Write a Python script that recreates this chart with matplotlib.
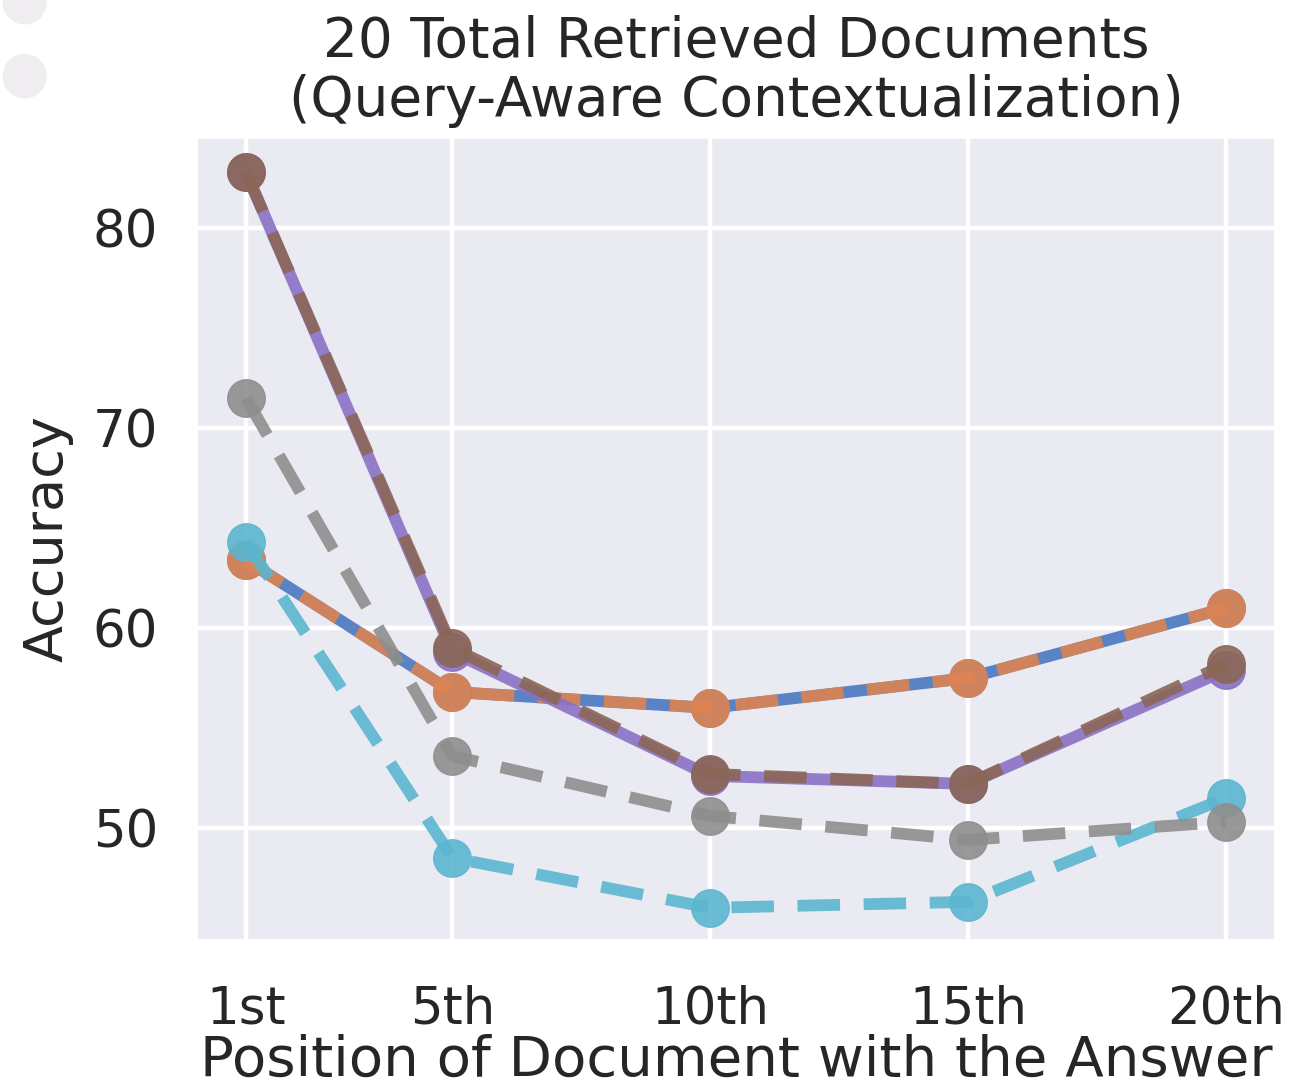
import matplotlib
matplotlib.use("Agg")
import matplotlib.pyplot as plt
from matplotlib.patches import Ellipse
import seaborn as sns

# positions of the gold document (1-based) and tick labels
positions = [1, 5, 10, 15, 20]
tick_labels = ["1st", "5th", "10th", "15th", "20th"]

# accuracy per series
acc_blue = [63.4, 56.8, 56.0, 57.5, 61.0]
acc_orange = [63.4, 56.8, 56.0, 57.5, 61.0]
acc_purple = [82.8, 58.8, 52.6, 52.2, 57.9]
acc_brown = [82.8, 59.0, 52.7, 52.2, 58.2]
acc_cyan = [64.3, 48.5, 46.0, 46.3, 51.5]
acc_gray = [71.5, 53.6, 50.6, 49.4, 50.3]

sns.set_theme(style="darkgrid")
plt.rcParams['font.family'] = ['DejaVu Sans']

fig = plt.figure(figsize=(12.96, 10.89), dpi=100)
ax = fig.add_axes([0.152, 0.137, 0.832, 0.736])

lw = 8.5
ms = 27
dash = (3.6, 2.0)

series = [
    (acc_blue, "#4a78c0", "-"),
    (acc_orange, "#dd8452", "--"),
    (acc_purple, "#8a70c4", "-"),
    (acc_brown, "#8b6656", "--"),
    (acc_cyan, "#5bb6d0", "--"),
    (acc_gray, "#8e8e8e", "--"),
]

for vals, col, ls in series:
    line, = ax.plot(positions, vals, color=col, linestyle=ls, linewidth=lw,
                    marker="o", markersize=ms, alpha=0.9)
    if ls == "--":
        line.set_dashes(dash)

ax.grid(True, color="white", linewidth=3.2)
ax.set_xticks(positions)
ax.set_xticklabels(tick_labels)
ax.set_yticks([50, 60, 70, 80])
ax.tick_params(axis="x", labelsize=37, pad=26)
ax.tick_params(axis="y", labelsize=37, pad=22)
ax.set_ylabel("Accuracy", fontsize=39, labelpad=14)
ax.set_xlabel("Position of Document with the Answer", fontsize=40.5, labelpad=0)
ax.set_title("20 Total Retrieved Documents\n(Query-Aware Contextualization)",
             fontsize=39.5, pad=16, linespacing=1.12)
ax.set_ylim(44.4, 84.5)

# faint leftover legend dots at the top-left corner of the crop
for yc in [0.998, 0.93]:
    fig.patches.append(Ellipse((0.019, yc), 0.034, 0.041, transform=fig.transFigure,
                               facecolor="#efedf0", edgecolor="none"))

fig.savefig("out.png", dpi=100)
